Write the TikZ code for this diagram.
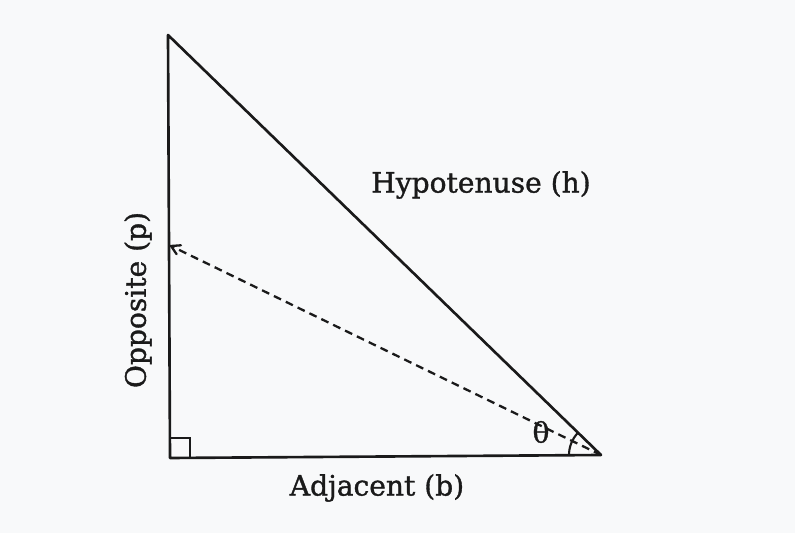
\documentclass[tikz,border=0pt]{standalone}
\usepackage{fontspec}
\setmainfont{DejaVu Serif}
\newfontfamily\lblfont{DejaVu Serif}[FakeBold=1.2]
\usepackage{tikz}
\usetikzlibrary{positioning}
\usetikzlibrary{scopes,arrows}
\definecolor{bgpage}{HTML}{F8F9FA}
\definecolor{ink}{HTML}{1A1A1A}

\begin{document}
\begin{tikzpicture}[x=0.02cm,y=-0.02cm,
     side/.style={line width=1.5pt,draw=ink},
     lbl/.style={text=ink,font=\lblfont\fontsize{16}{19}\selectfont,inner sep=0pt}]
     \fill[bgpage] (0,0) rectangle (795,533);
     \useasboundingbox (0,0) rectangle (795,533);
     \coordinate (A) at (168,35);
     \coordinate (B) at (170,458);
     \coordinate (C) at (601,455);
     \coordinate (P) at (169,245);
     \draw[side,line join=round] (A) -- (B) -- (C) -- cycle;
     \draw[line width=1pt,draw=ink] (170,438) -- (190,438) -- (190,458);
     \draw[-angle 60,line width=1.3pt,draw=ink,dash pattern=on 4.5pt off 3pt] (C) -- (P);
     \draw[line width=1.2pt,draw=ink] ([shift={(-32,0)}]C) arc[start angle=180,end angle=224,radius=32];
     \node[lbl] (hyp) at (481,185) {Hypotenuse (h)};
     \node[lbl,rotate=90] (opp) at (138,300) {Opposite (p)};
     \node[lbl] (adj) at (377,488) {Adjacent (b)};
     \node[lbl] (theta) at (541,432) {θ};
\end{tikzpicture}
\end{document}
